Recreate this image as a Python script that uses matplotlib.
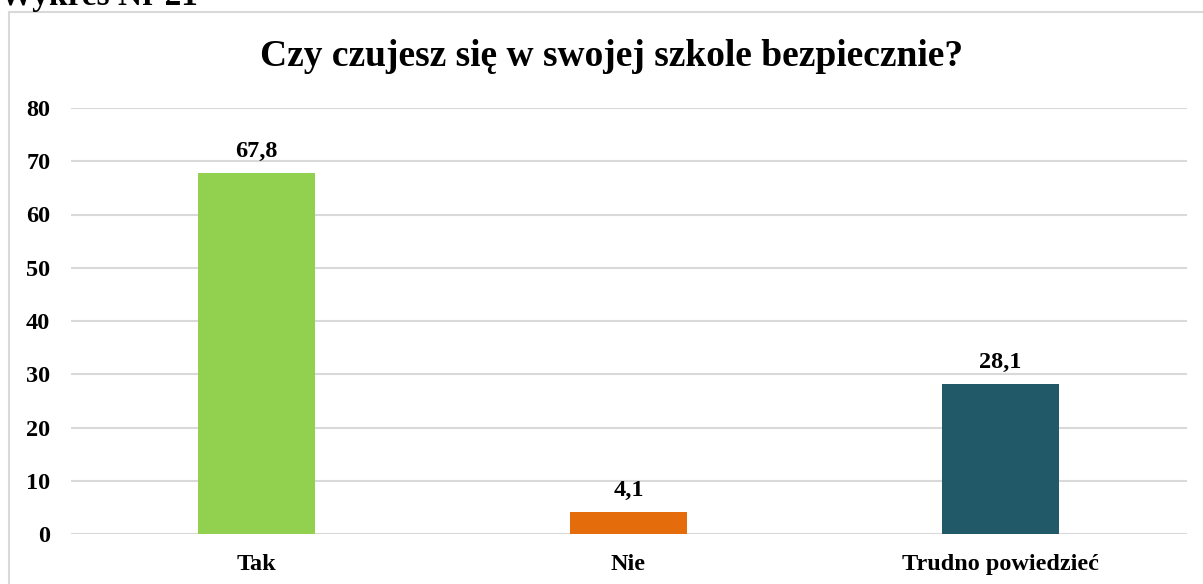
import matplotlib
matplotlib.use("Agg")
import matplotlib.pyplot as plt
from matplotlib.patches import Rectangle

categories = ["Tak", "Nie", "Trudno powiedzieć"]
values = [67.8, 4.1, 28.1]
labels = ["67,8", "4,1", "28,1"]
colors = ["#92D050", "#E46C0A", "#215968"]
yticks = [0, 10, 20, 30, 40, 50, 60, 70, 80]

plt.rcParams['font.family'] = ['Liberation Serif', 'DejaVu Serif']
plt.rcParams['font.weight'] = 'bold'

W, H = 1203, 584
fig = plt.figure(figsize=(W/100, H/100), dpi=100)

# outer chart border (cut off at right/bottom)
fig.patches.append(Rectangle((9/W, -0.1), 1.2, 1 - 12/H + 0.1, transform=fig.transFigure,
                             fill=False, edgecolor="#d9d9d9", linewidth=1.5))

fig.text(0, 1 - 5/H, "Wykres Nr 21", ha='left', va='baseline', fontsize=24, fontweight='bold')

ax = fig.add_axes([70.5/W, 1 - 534/H, (1186.5 - 70.5)/W, (534 - 108)/H])
x = range(len(categories))
bars = ax.bar(x, values, width=117/372, color=colors, zorder=3)
ax.set_xlim(-0.5, len(categories) - 0.5)
ax.set_ylim(0, 80)
ax.set_yticks(yticks)
ax.set_yticklabels([str(v) for v in yticks], fontsize=17.5, fontweight='bold')
ax.set_xticks(list(x))
ax.set_xticklabels(categories, fontsize=17.5, fontweight='bold')
ax.tick_params(axis='both', length=0)
ax.tick_params(axis='y', pad=14.5)
ax.tick_params(axis='x', pad=14.5)
for s in ax.spines.values():
    s.set_visible(False)
ax.grid(axis='y', color='#d9d9d9', linewidth=1.5, zorder=0)
ax.set_axisbelow(True)

for b, lab in zip(bars, labels):
    ax.annotate(lab, (b.get_x() + b.get_width()/2, b.get_height()), xytext=(0, 8),
                textcoords='offset points', ha='center', va='bottom',
                fontsize=17.5, fontweight='bold')

fig.text(612/W, 1 - 56/H, "Czy czujesz się w swojej szkole bezpiecznie?",
         ha='center', va='center', fontsize=27, fontweight='bold')

fig.savefig("out.png", dpi=100)
